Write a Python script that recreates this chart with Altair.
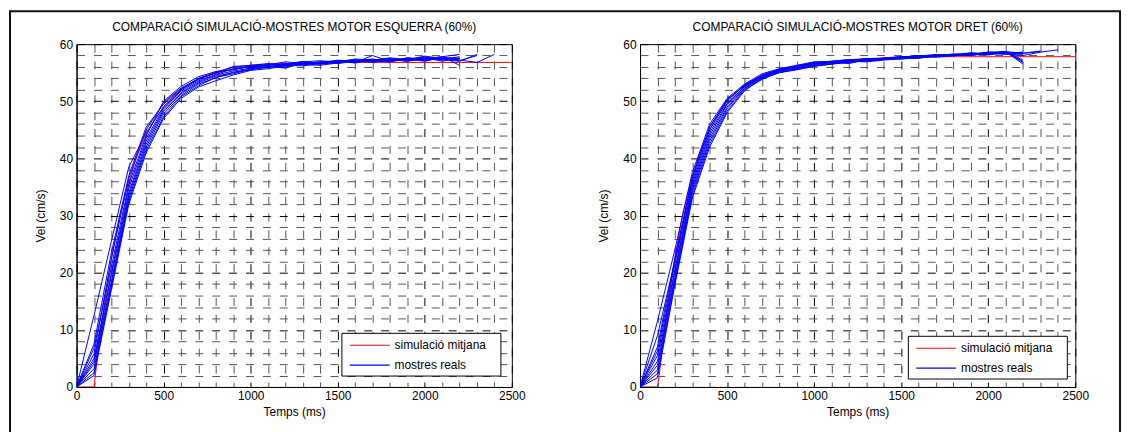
import altair as alt
import pandas as pd

# ---------------- data ----------------
SIM_LABEL = "simulació mitjana"
REAL_LABEL = "mostres reals"

T = list(range(0, 2401, 100))            # sample times (ms)
X_GRID = list(range(0, 2501, 100))       # grid / tick positions x
Y_GRID = list(range(0, 61, 2))           # grid / tick positions y

SIM_T = [0, 100, 110, 150, 200, 250, 300, 350, 400, 450, 500, 600, 700, 800,
         900, 1000, 1100, 1200, 1400, 1600, 1800, 2000, 2500]
SIM_LEFT = [0, 0, 2.6, 12.6, 22.3, 30.3, 35.9, 40.7, 44.1, 46.8, 49.1, 52.1, 54.0,
            55.2, 55.9, 56.3, 56.5, 56.6, 56.7, 56.8, 56.8, 56.8, 56.8]
SIM_RIGHT = [0, 0, 2.0, 12.5, 22.7, 31.0, 36.8, 41.5, 45.0, 47.6, 49.6, 52.6, 54.4,
             55.5, 56.2, 56.7, 57.0, 57.3, 57.6, 57.8, 57.8, 57.8, 57.8]

L1 = [0, 12.5, 25.5, 38.5, 44.5, 49.0, 52.0, 53.8, 55.0, 55.6, 56.0, 56.3, 56.6, 56.5, 56.8, 56.9, 57.0, 57.2, 57.0, 57.3, 57.4, 57.2, 57.5]
L2 = [0, 6.8, 21.0, 35.5, 44.0, 50.0, 52.6, 54.3, 55.2, 55.5, 56.2, 56.4, 56.9, 56.6, 56.9, 57.1, 56.8, 58.0, 57.0, 57.6, 57.4, 57.8, 58.2]
L3 = [0, 5.8, 22.5, 36.5, 45.0, 49.8, 52.3, 53.9, 55.0, 56.0, 55.9, 56.4, 56.3, 56.8, 56.7, 57.2, 57.0, 57.1, 57.4, 57.0, 57.8, 57.3, 57.0, 58.2]
L4 = [0, 5.0, 20.0, 34.8, 43.5, 48.8, 51.8, 53.6, 54.7, 55.7, 56.1, 56.0, 56.5, 57.0, 56.5, 57.0, 57.3, 56.8, 57.2, 57.5, 57.1, 57.6, 57.2, 56.8, 58.2]
L5 = [0, 4.5, 19.5, 34.0, 43.0, 48.5, 51.5, 53.4, 54.6, 55.3, 55.8, 56.2, 56.0, 56.6, 56.9, 56.6, 57.1, 57.4, 57.0, 57.3, 57.7, 57.0, 57.6]
L6 = [0, 4.0, 18.5, 33.5, 42.5, 48.2, 51.3, 53.2, 54.4, 55.0, 55.7, 56.0, 56.5, 56.4, 56.7, 57.0, 56.7, 57.2, 57.5, 57.1, 57.4, 57.8, 56.3]
L7 = [0, 3.2, 18.0, 33.0, 42.0, 47.8, 51.0, 53.0, 54.1, 55.1, 55.5, 56.1, 55.8, 56.7, 56.5, 56.8, 57.2, 57.0, 56.9, 57.6, 57.2, 57.5, 57.3]
L8 = [0, 2.5, 17.5, 32.5, 41.5, 47.3, 50.8, 52.7, 54.2, 54.8, 55.6, 55.9, 56.3, 56.2, 56.6, 56.9, 57.0, 56.9, 57.3, 57.0, 57.6, 57.3, 57.8]
L9 = [0, 2.0, 17.0, 32.0, 41.0, 47.0, 50.5, 52.5, 53.6, 54.6, 55.4, 55.7, 56.2, 56.4, 56.3, 56.7, 56.9, 57.3, 57.1, 57.4, 57.0, 57.7, 57.5]
L10 = [0, 7.5, 23.5, 37.0, 45.5, 49.5, 52.2, 54.0, 54.9, 56.1, 56.3, 56.6, 56.4, 56.9, 57.1, 56.8, 57.4, 57.2, 57.6, 57.3, 57.9, 57.5, 57.1, 58.0]

R1 = [0, 11.5, 24.0, 37.5, 46.0, 50.5, 53.0, 54.8, 55.7, 56.3, 56.9, 57.0, 57.3, 57.2, 57.6, 57.8, 57.9, 58.0, 58.2, 58.3, 58.5, 58.4, 58.6]
R2 = [0, 9.0, 22.0, 36.5, 45.5, 50.2, 52.8, 54.6, 55.6, 56.2, 56.8, 56.9, 57.0, 57.4, 57.5, 57.7, 58.0, 57.9, 58.3, 58.2, 58.6, 58.7, 56.5]
R3 = [0, 6.3, 21.5, 36.0, 45.0, 50.0, 52.9, 54.5, 55.5, 56.0, 56.7, 56.8, 57.2, 57.1, 57.5, 57.8, 57.7, 58.1, 58.0, 58.4, 58.2, 58.6, 57.0]
R4 = [0, 5.5, 20.5, 35.5, 44.5, 49.6, 52.6, 54.3, 55.4, 56.1, 56.5, 56.9, 57.0, 57.3, 57.4, 57.6, 57.9, 58.0, 58.2, 58.0, 58.5, 58.3, 58.0, 58.6, 59.0]
R5 = [0, 4.5, 20.0, 35.0, 44.0, 49.4, 52.5, 54.2, 55.3, 55.8, 56.6, 56.7, 57.1, 57.2, 57.3, 57.7, 57.6, 57.9, 58.1, 58.3, 58.1, 58.5, 58.4, 58.8]
R6 = [0, 3.8, 19.2, 34.5, 43.5, 49.0, 52.3, 54.1, 55.2, 55.9, 56.4, 56.8, 56.6, 57.3, 57.5, 57.4, 57.8, 58.0, 57.9, 58.4, 58.3, 58.6, 56.8]
R7 = [0, 3.0, 18.8, 34.0, 43.0, 48.7, 52.2, 54.0, 55.0, 55.7, 56.3, 56.6, 56.9, 57.0, 57.4, 57.6, 57.5, 58.0, 58.2, 58.1, 58.6, 58.4, 58.2]
R8 = [0, 2.3, 18.2, 33.5, 42.5, 48.3, 52.0, 53.8, 55.1, 55.6, 56.2, 56.5, 57.0, 56.9, 57.2, 57.5, 57.8, 57.7, 58.0, 58.3, 58.4, 58.2, 58.5]
R9 = [0, 1.6, 17.8, 33.0, 42.0, 48.0, 51.8, 54.0, 55.0, 55.5, 56.1, 56.5, 56.8, 57.1, 57.3, 57.4, 57.6, 57.9, 58.1, 58.0, 58.4, 58.7, 57.2]
R10 = [0, 7.0, 22.5, 36.8, 45.5, 50.3, 52.7, 54.5, 55.5, 56.2, 56.6, 57.0, 57.1, 57.5, 57.4, 57.8, 57.9, 58.2, 58.1, 58.5, 58.3, 58.7, 58.4, 58.7]

LEFT_SAMPLES = [L1, L2, L3, L4, L5, L6, L7, L8, L9, L10]
RIGHT_SAMPLES = [R1, R2, R3, R4, R5, R6, R7, R8, R9, R10]

TITLE_LEFT = "COMPARACIÓ SIMULACIÓ-MOSTRES MOTOR ESQUERRA (60%)"
TITLE_RIGHT = "COMPARACIÓ SIMULACIÓ-MOSTRES MOTOR DRET (60%)"

FONT = "Liberation Sans"
W, H = 438, 345
RED, BLUE = "#ff0000", "#0000ff"
one = pd.DataFrame({"a": [0]})


def build_frames(sim, samples):
    sim_df = pd.DataFrame({"t": SIM_T, "v": sim, "serie": "sim",
                           "kind": SIM_LABEL, "ord": range(len(sim))})
    parts = []
    for k, s in enumerate(samples):
        parts.append(pd.DataFrame({"t": T[:len(s)], "v": s, "serie": f"m{k}",
                                   "kind": REAL_LABEL, "ord": range(len(s))}))
    return sim_df, pd.concat(parts, ignore_index=True)


def panel(title, sim, samples, leg, frame=False):
    sim_df, real_df = build_frames(sim, samples)
    x = alt.X("t:Q", scale=alt.Scale(domain=[0, 2500], nice=False, zero=True),
              title="Temps (ms)",
              axis=alt.Axis(values=X_GRID,
                            labelExpr="datum.value % 500 === 0 ? '' + datum.value : ''",
                            labelOverlap=False, labelFlush=False,
                            gridColor={"condition": {"test": "datum.value % 500 === 0", "value": "#000000"},
                                       "value": "#555555"},
                            titlePadding=5))
    y = alt.Y("v:Q", scale=alt.Scale(domain=[0, 60], nice=False),
              title="Vel (cm/s)",
              axis=alt.Axis(values=Y_GRID,
                            labelExpr="datum.value % 10 === 0 ? '' + datum.value : ''",
                            labelOverlap=False, labelFlush=False,
                            gridColor={"condition": {"test": "datum.value % 10 === 0", "value": "#000000"},
                                       "value": "#555555"},
                            titlePadding=12))
    color = alt.Color("kind:N",
                      scale=alt.Scale(domain=[SIM_LABEL, REAL_LABEL], range=[RED, BLUE]),
                      legend=None)
    sim_layer = alt.Chart(sim_df).mark_line(strokeWidth=1, clip=True).encode(
        x=x, y=y, color=color, detail="serie:N", order="ord:Q")
    real_layer = alt.Chart(real_df).mark_line(strokeWidth=1, clip=True).encode(
        x=x, y=y, color=color, detail="serie:N", order="ord:Q")

    # title as text (so the figure frame does not push it away)
    ttl = alt.Chart(one).mark_text(font=FONT, fontSize=12, color="#000000",
                                   align="center", baseline="middle").encode(
        x=alt.value(W / 2), y=alt.value(-17), text=alt.value(title))

    # legend box drawn inside the axes
    lx, ly = leg
    box = alt.Chart(one).mark_rect(fill="#ffffff", stroke="#000000", strokeWidth=1).encode(
        x=alt.value(lx), x2=alt.value(lx + 160), y=alt.value(ly), y2=alt.value(ly + 43))
    r1 = alt.Chart(one).mark_rule(color=RED, strokeWidth=1.2).encode(
        x=alt.value(lx + 8), x2=alt.value(lx + 48), y=alt.value(ly + 12))
    r2 = alt.Chart(one).mark_rule(color=BLUE, strokeWidth=1.2).encode(
        x=alt.value(lx + 8), x2=alt.value(lx + 48), y=alt.value(ly + 32))
    t1 = alt.Chart(one).mark_text(font=FONT, fontSize=12, color="#000000",
                                  align="left", baseline="middle").encode(
        x=alt.value(lx + 53), y=alt.value(ly + 12), text=alt.value(SIM_LABEL))
    t2 = alt.Chart(one).mark_text(font=FONT, fontSize=12, color="#000000",
                                  align="left", baseline="middle").encode(
        x=alt.value(lx + 53), y=alt.value(ly + 32), text=alt.value(REAL_LABEL))

    layers = [sim_layer, real_layer, ttl, box, r1, r2, t1, t2]
    if frame:
        fr = alt.Chart(one).mark_rect(
            fill="transparent", stroke="#111111", strokeWidth=2).encode(
            x=alt.value(-67), x2=alt.value(1050), y=alt.value(-33), y2=alt.value(396))
        layers = [fr] + layers
    return alt.layer(*layers).properties(width=W, height=H)


left = panel(TITLE_LEFT, SIM_LEFT, LEFT_SAMPLES, (267, 291), frame=True)
right = panel(TITLE_RIGHT, SIM_RIGHT, RIGHT_SAMPLES, (270, 294))

chart = alt.hconcat(left, right, spacing=129, bounds="flush").resolve_scale(
    color="independent").properties(
    padding=0, background="white"
).configure_view(stroke="#000000", strokeWidth=1).configure_axis(
    domainColor="#000000", domainWidth=1, ticks=False, tickSize=0,
    labelFont=FONT, labelFontSize=12, labelColor="#000000", labelPadding=4,
    titleFont=FONT, titleFontSize=12, titleFontWeight="normal", titleColor="#000000",
    grid=True, gridDash=[8, 9], gridWidth=1, gridOpacity=1
)

chart.save("out.html", embed_options={"renderer": "svg", "actions": False})
